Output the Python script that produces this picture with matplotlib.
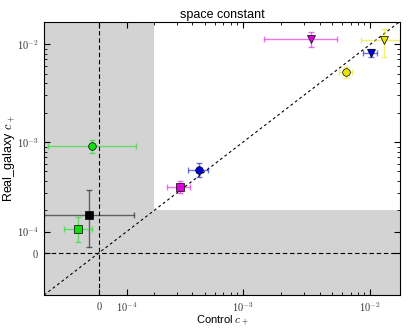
import numpy as np
import matplotlib.pyplot as plt

plt.rcParams['mathtext.fontset'] = 'cm'
plt.rcParams['font.family'] = ['Liberation Sans', 'DejaVu Sans']

# control c+ (x) and real_galaxy c+ (y) with errors
ctrl = [-2.6e-5, -3.7e-5, -7.6e-5, 3.18e-4, 4.5e-4, 6.4e-3, 1.007e-2, 1.28e-2, 3.45e-3]
ctrl_err = [1.6e-4, 1.64e-4, 5.1e-5, 6.4e-5, 8.2e-5, 7.7e-4, 1.3e-3, 4.3e-3, 2.0e-3]
real = [9.1e-4, 1.76e-4, 1.11e-4, 3.48e-4, 5.24e-4, 5.2e-3, 8.2e-3, 1.1e-2, 1.13e-2]
real_err = [1.3e-4, 1.5e-4, 6e-5, 5e-5, 8.6e-5, 7e-4, 8e-4, 3.5e-3, 2.0e-3]
colors = ['#11dd11', 'k', '#11dd11', '#dd00dd', '#0000dd', '#e5e500', '#0000dd', '#e5e500', '#dd00dd']
markers = ['o', 's', 's', 's', 'o', 'o', 'v', 'v', 'v']

linthresh = 2e-4
lo = -2e-4
hi = 0.0171


def main():
    fig = plt.figure(figsize=(4.11, 3.29), dpi=100)
    ax = fig.add_axes([0.107, 0.103, 0.866, 0.830])

    # linear region shaded
    ax.axvspan(lo, linthresh, color='lightgray', lw=0, zorder=0)
    ax.axhspan(lo, linthresh, color='lightgray', lw=0, zorder=0)

    ax.plot([lo, hi], [lo, hi], color='k', ls='--', dashes=(2.5, 2.5), lw=0.8, zorder=1)
    ax.axhline(0, color='k', ls='--', dashes=(4, 2.5), lw=0.8, zorder=1)
    ax.axvline(0, color='k', ls='--', dashes=(4, 2.5), lw=0.8, zorder=1)

    for i in range(len(ctrl)):
        ax.errorbar(ctrl[i], real[i], xerr=ctrl_err[i], yerr=real_err[i],
                    fmt='none', ecolor=colors[i], alpha=0.55, capsize=2,
                    elinewidth=1, zorder=2)
        ax.plot(ctrl[i], real[i], marker=markers[i], color=colors[i],
                mec='k', mew=0.5, ms=5.5, ls='none', zorder=3)

    ax.set_xscale('symlog', linthresh=linthresh, linscale=0.39)
    ax.set_yscale('symlog', linthresh=linthresh, linscale=0.39)
    ax.set_xlim(lo, hi)
    ax.set_ylim(lo, 0.0169)

    major = [0, 1e-4, 1e-3, 1e-2]
    labels = ['$0$', '$10^{-4}$', '$10^{-3}$', '$10^{-2}$']
    minor = [k * 10.0 ** n for n in (-4, -3, -2) for k in range(2, 10)]
    minor = [m for m in minor if m < hi]
    for axis in (ax.xaxis, ax.yaxis):
        axis.set_ticks(major)
        axis.set_ticklabels(labels)
        axis.set_ticks(minor, minor=True)
    ax.tick_params(which='both', direction='in', top=True, right=True,
                   labelsize=7.5, colors='k', labelcolor='#333333')
    ax.tick_params(which='major', length=4)
    ax.tick_params(which='minor', length=2)

    ax.set_xlabel('Control $c_+$', fontsize=8, labelpad=0)
    ax.set_ylabel('Real_galaxy $c_+$', fontsize=9, labelpad=0)
    ax.set_title('space constant', fontsize=9, pad=3)

    fig.savefig('out.png', dpi=100)


if __name__ == '__main__':
    main()
